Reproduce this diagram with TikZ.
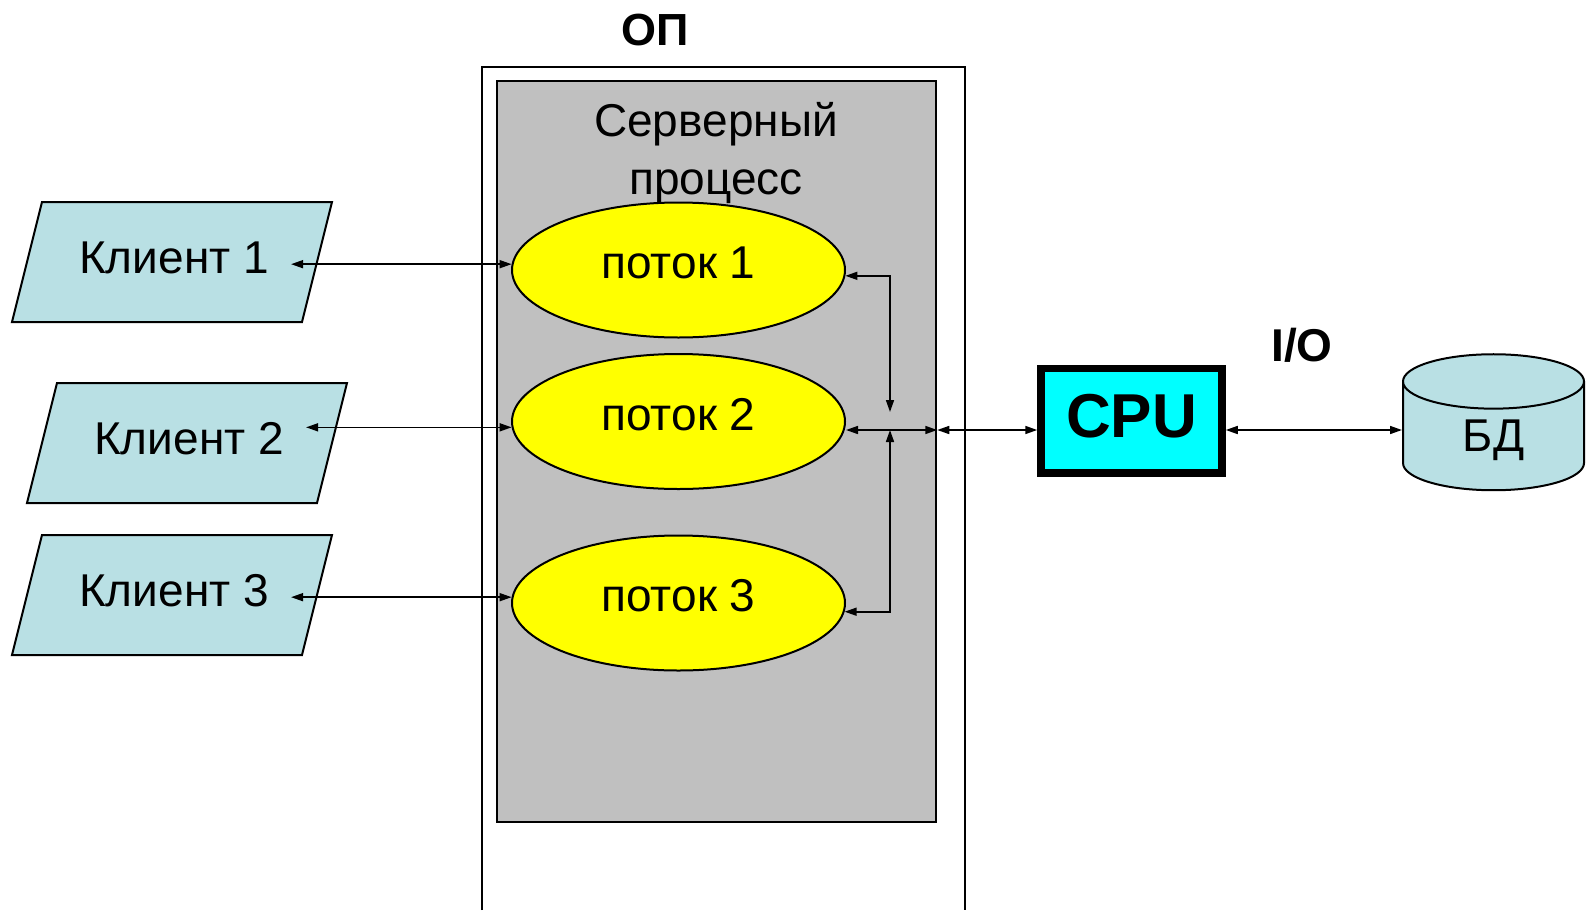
\documentclass[tikz,border=0pt]{standalone}
\usepackage{fontspec}
\setmainfont{Liberation Sans}
\usepackage{tikz}
\usepackage{xcolor}
\usetikzlibrary{shapes.geometric,arrows.meta}
\definecolor{clientblue}{RGB}{185,224,228}
\definecolor{srvgray}{RGB}{192,192,192}
\definecolor{thryellow}{RGB}{255,255,0}
\definecolor{cpucyan}{RGB}{0,255,255}
\def\drawclient#1#2#3#4{
	\draw[draw=black,fill=clientblue,line width=2pt]
	(#1,#2+120) -- ++(290,0) -- ++(30,-120) -- ++(-290,0) -- cycle;
	\node[clienttext] (#3) at (#1+162,#2+71) {#4};}

\begin{document}
\begin{tikzpicture}[x=1pt,y=-1pt,
	big/.style={font=\fontsize{46}{50}\selectfont},
	clienttext/.style={big,anchor=base,inner xsep=22pt},
	thread/.style={ellipse,draw,line width=2pt,fill=thryellow,minimum width=333pt,
		minimum height=135pt,inner sep=0,big,text height=33pt,text depth=16pt},
	link/.style={<->,>={Triangle[length=12pt,width=8pt]},line width=1.6pt}]
	\useasboundingbox (0,0) rectangle (1592,910);
	%ОП
	\draw[line width=1.5pt] (482,910) -- (482,67) -- (965,67) -- (965,910);
	\node[font=\bfseries\fontsize{45}{50}\selectfont,anchor=base] (op) at (655,45) {ОП};
	%серверный процесс
	\node[draw,line width=2.5pt,fill=srvgray,minimum width=439pt,minimum height=741pt] (srv) at (716.5,451.5) {};
	\node[font=\fontsize{46}{58}\selectfont,align=center,inner sep=0] (srvname) at (716,153.5) {Серверный\\процесс};
	\node[thread] (p1) at (678.5,270) {поток 1};
	\node[thread] (p2) at (678.5,421.5) {поток 2};
	\node[thread] (p3) at (678.5,603) {поток 3};
	%клиенты
	\drawclient{12}{202}{k1}{Клиент 1}
	\drawclient{27}{383}{k2}{Клиент 2}
	\drawclient{12}{535}{k3}{Клиент 3}
	%CPU и БД
	\node[draw,line width=7.5pt,fill=cpucyan,minimum width=181pt,minimum height=104.5pt,inner sep=0,
		font=\bfseries\fontsize{62}{62}\selectfont,text height=44pt,text depth=10pt] (cpu) at (1131.5,420.75) {CPU};
	\node[font=\bfseries\fontsize{46}{50}\selectfont,anchor=base] (io) at (1302,361) {I/O};
	\node[cylinder,shape border rotate=90,draw,line width=2pt,fill=clientblue,aspect=0.8,
		minimum width=181pt,minimum height=136pt,big] (db) at (1493.5,440) {БД};
	\coordinate (bus) at (890,430);
	%стрелки
	\draw[link] (p1.178) -- (p1.178 -| k1.east);
	\draw[link] (p2.182) -- (p2.182 -| k2.east);
	\draw[link] (p3.178) -- (p3.178 -| k3.east);
	\draw[link] (p1.358) -| ([yshift=18pt]bus);
	\draw[link] (p3.357) -| (bus);
	\draw[link] (p2.east |- bus) -- (srv.east |- bus);
	\draw[link] (srv.east |- bus) -- (cpu.west |- bus);
	\draw[link] (cpu.east |- bus) -- (db.west |- bus);
\end{tikzpicture}
\end{document}
